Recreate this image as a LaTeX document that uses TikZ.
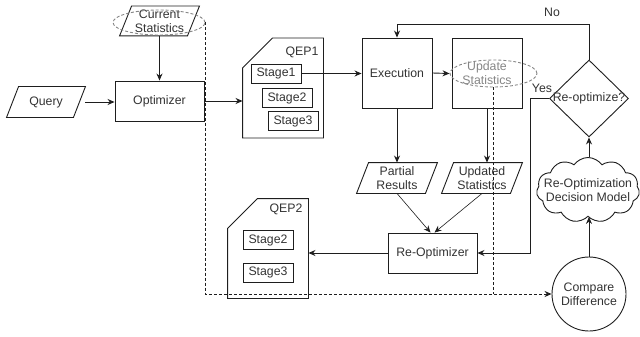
\documentclass[tikz,border=0pt]{standalone}
\usepackage{fontspec}
\setmainfont{Liberation Sans}
\usetikzlibrary{shapes.geometric,shapes.symbols,arrows.meta,calc}
\definecolor{lncol}{HTML}{1E1E1E}
\definecolor{txtcol}{HTML}{333333}
\definecolor{grycol}{HTML}{858585}
\newcommand\paradraw[1]{\draw[lncol] ([xshift=12pt]#1.north west) -- (#1.north east) -- ([xshift=-12pt]#1.south east) -- (#1.south west) -- cycle;}
\newcommand\carddraw[1]{\draw[lncol] ([yshift=-30pt]#1.north west) -- ([xshift=30pt]#1.north west) -- (#1.north east) -- (#1.south east) -- (#1.south west) -- cycle;}
\begin{document}
\begin{tikzpicture}[x=1pt,y=-1pt,line width=0.9pt,
  every node/.style={font=\fontsize{12.3}{14}\selectfont,text=txtcol,align=center},
  box/.style={draw=lncol,rectangle,inner sep=0pt},
  para/.style={rectangle,inner sep=0pt,minimum width=80,minimum height=30},
  card/.style={rectangle,inner sep=0pt,minimum width=80,minimum height=99},
  stg/.style={draw=lncol,rectangle,inner sep=0pt,minimum width=50,minimum height=19},
  gell/.style={ellipse,draw=grycol,dashed,dash pattern=on 3pt off 2pt,inner sep=0pt},
  arr/.style={draw=lncol,-{Stealth[length=7pt,width=6pt]}},
  dashline/.style={draw=lncol,dash pattern=on 3pt off 2pt},
]
\useasboundingbox (0,0) rectangle (640,337);

% input / optimizer
\node[para,minimum width=78] (query) at (46,102) {Query};
\paradraw{query}
\node[para,minimum width=79,minimum height=29] (cur) at (159.5,21) {Current\\Statistics};
\paradraw{cur}
\node[gell,minimum width=92,minimum height=25] (curell) at (159,22.5) {};
\node[box,minimum width=89,minimum height=40] (opt) at (159.5,101) {Optimizer};

% QEP1
\node[card] (qep1) at (283,88) {};
\carddraw{qep1}
\node (qep1lbl) at (302,52) {QEP1};
\node[stg] (s1) at (276,73.5) {Stage1};
\node[stg] (s2) at (287,98) {Stage2};
\node[stg] (s3) at (293,121) {Stage3};

% execution / update
\node[box,minimum width=70,minimum height=70] (exec) at (397,73) {Execution};
\node[box,minimum width=70,minimum height=70,text=grycol] (upd) at (487,73) {Update\\Statistics};
\node[gell,minimum width=87,minimum height=27] (updell) at (493.5,73.5) {};

% partial results / updated statistics
\node[para] (partial) at (397,178) {Partial\\Results};
\paradraw{partial}
\node[para] (updated) at (482,178) {Updated\\Statistics};
\paradraw{updated}

% re-optimizer
\node[box,minimum width=89,minimum height=40] (reopt) at (432.5,253) {Re-Optimizer};

% QEP2
\node[card] (qep2) at (268,248.5) {};
\carddraw{qep2}
\node (qep2lbl) at (286,209) {QEP2};
\node[stg] (q2s2) at (268,240) {Stage2};
\node[stg] (q2s3) at (268,272.5) {Stage3};

% right column
\node[circle,draw=lncol,inner sep=0pt,minimum size=74] (cmp) at (589,294) {Compare\\Difference};
\node[cloud,draw=lncol,cloud puffs=11,cloud puff arc=110,aspect=1.6,inner sep=0pt,minimum width=103,minimum height=65] (cloud) at (588,190) {};
\node (cloudtxt) at (588,190) {Re-Optimization\\Decision Model};
\node[diamond,draw=lncol,inner sep=0pt,minimum width=79,minimum height=77] (dec) at (589,98.5) {};
\node (dectxt) at (589,98.5) {Re-optimize?};

\node (nolbl) at (552,12) {No};
\node (yeslbl) at (542,88) {Yes};

% connectors
\draw[arr] (query.east) -- (opt.west |- query.east);
\draw[arr] (cur.south -| opt.north) -- (opt.north);
\draw[arr] (opt.east) -- (qep1.west |- opt.east);
\draw[arr] (s1.east) -- (exec.west |- s1.east);
\draw[arr] (exec.east) -- (updell.west);
\draw[arr] (exec.south) -- (partial.north);
\draw[arr] (upd.south) -- (upd.south |- updated.north);
\draw[arr,line width=0.6pt] (partial.south) -- ([xshift=-2pt]reopt.north);
\draw[arr,line width=0.6pt] (updated.south) -- ([xshift=2pt]reopt.north);
\draw[arr] (reopt.west) -- (qep2.east |- reopt.west);
\draw[arr] (dec.west) -- ++(-19,0) |- (reopt.east);
\draw[arr] (dec.north) -- ++(0,-35) -| (exec.north);
\draw[arr] (cmp.north) -- (cmp.north |- cloud.south);
\draw[arr] (cmp.north |- cloud.north) -- (dec.south);
\draw[dashline,arr] (curell.east) |- (cmp.west);
\draw[dashline] (updell.south) -- (updell.south |- cmp.west);
\end{tikzpicture}
\end{document}
